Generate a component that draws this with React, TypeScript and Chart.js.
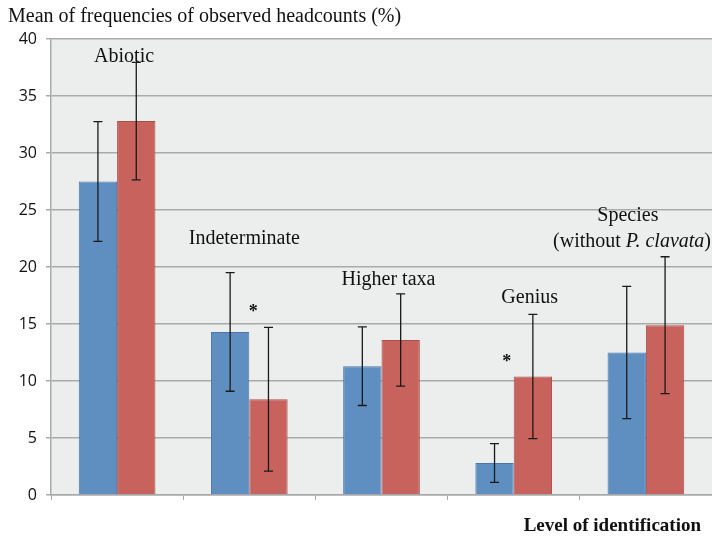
import React, { useEffect, useRef } from "react";
import { Chart, registerables } from "chart.js";

Chart.register(...registerables);

const categories = ["Abiotic", "Indeterminate", "Higher taxa", "Genius", "Species (without P. clavata)"];
const seriesA = [27.5, 14.3, 11.3, 2.8, 12.5];
const seriesB = [32.8, 8.4, 13.6, 10.4, 14.9];
const errA = [5.25, 5.2, 3.45, 1.7, 5.8];
const errB = [5.15, 6.3, 4.05, 5.45, 6.0];
const yTicks = [0, 5, 10, 15, 20, 25, 30, 35, 40];
const significant = [false, true, false, true, false];
const yTitle = "Mean of frequencies of observed headcounts (%)";
const xTitle = "Level of identification";

const SERIF = '"Liberation Serif", "DejaVu Serif", serif';

const bgPlugin = {
  id: "plotBg",
  beforeDraw(chart: any) {
    const { ctx, chartArea } = chart;
    ctx.save();
    ctx.fillStyle = "#ECEEEE";
    ctx.fillRect(chartArea.left, chartArea.top, chartArea.right - chartArea.left, chartArea.bottom - chartArea.top);
    ctx.restore();
  },
};

const errPlugin = {
  id: "errBars",
  afterDatasetsDraw(chart: any) {
    const { ctx } = chart;
    const y = chart.scales.y;
    const errs = [errA, errB];
    ctx.save();
    ctx.strokeStyle = "#1a1a1a";
    ctx.lineWidth = 1.3;
    chart.data.datasets.forEach((ds: any, di: number) => {
      const meta = chart.getDatasetMeta(di);
      meta.data.forEach((bar: any, i: number) => {
        const v = ds.data[i];
        const e = errs[di][i];
        const x = bar.x;
        const yt = y.getPixelForValue(v + e);
        const yb = y.getPixelForValue(v - e);
        ctx.beginPath();
        ctx.moveTo(x, yt);
        ctx.lineTo(x, yb);
        ctx.moveTo(x - 4.5, yt);
        ctx.lineTo(x + 4.5, yt);
        ctx.moveTo(x - 4.5, yb);
        ctx.lineTo(x + 4.5, yb);
        ctx.stroke();
      });
    });
    ctx.restore();
  },
};

const labelPlugin = {
  id: "labels",
  afterDraw(chart: any) {
    const { ctx } = chart;
    const x = chart.scales.x;
    const y = chart.scales.y;
    ctx.save();
    ctx.fillStyle = "#111";
    ctx.textBaseline = "middle";
    ctx.font = `20px ${SERIF}`;
    ctx.textAlign = "left";
    ctx.fillText(yTitle, 8, 17);
    ctx.font = `bold 19px ${SERIF}`;
    ctx.textAlign = "right";
    ctx.fillText(xTitle, 701, 526);

    ctx.font = `20px ${SERIF}`;
    ctx.textAlign = "center";
    const c = [0, 1, 2, 3, 4].map((i) => x.getPixelForValue(i));
    ctx.fillText("Abiotic", c[0] + 7, y.getPixelForValue(38.4));
    ctx.fillText("Indeterminate", c[1] - 5, y.getPixelForValue(22.5));
    ctx.fillText("Higher taxa", c[2] + 7, y.getPixelForValue(18.9));
    ctx.fillText("Genius", c[3] + 16, y.getPixelForValue(17.3));
    ctx.fillText("Species", c[4] - 18, y.getPixelForValue(24.5));
    const y5 = y.getPixelForValue(22.2);
    const parts: [string, string][] = [
      ["(without ", `20px ${SERIF}`],
      ["P. clavata", `italic 20px ${SERIF}`],
      [")", `20px ${SERIF}`],
    ];
    let total = 0;
    parts.forEach(([t, f]) => {
      ctx.font = f;
      total += ctx.measureText(t).width;
    });
    let sx = 711 - total;
    ctx.textAlign = "left";
    parts.forEach(([t, f]) => {
      ctx.font = f;
      ctx.fillText(t, sx, y5);
      sx += ctx.measureText(t).width;
    });
    ctx.font = `bold 18px ${SERIF}`;
    ctx.textAlign = "center";
    const astOff = [0, 4, 0, -7, 0];
    const astVal = [0, 16.0, 0, 11.6, 0];
    significant.forEach((s, i) => {
      if (!s) return;
      ctx.fillText("*", c[i] + astOff[i], y.getPixelForValue(astVal[i]));
    });
    ctx.restore();
  },
};

export default function App() {
  const ref = useRef<HTMLCanvasElement | null>(null);
  useEffect(() => {
    document.body.style.margin = "0";
    const chart = new Chart(ref.current!, {
      type: "bar",
      data: {
        labels: categories,
        datasets: [
          {
            label: "A",
            data: seriesA,
            backgroundColor: "#5F8FC1",
            borderColor: "#4A78AA",
            borderWidth: 1,
            categoryPercentage: 0.58,
            barPercentage: 1,
          },
          {
            label: "B",
            data: seriesB,
            backgroundColor: "#C8625D",
            borderColor: "#A84E4A",
            borderWidth: 1,
            categoryPercentage: 0.58,
            barPercentage: 1,
          },
        ],
      },
      options: {
        animation: false,
        responsive: false,
        maintainAspectRatio: false,
        layout: { padding: { top: 39, left: 0, right: 0, bottom: 0 } },
        plugins: { legend: { display: false }, tooltip: { enabled: false }, title: { display: false } },
        scales: {
          x: {
            ticks: { display: false },
            grid: { drawOnChartArea: false, drawTicks: true, tickLength: 5, color: "#A9AAAA", offset: true },
            border: { color: "#A9AAAA", width: 1.5 },
            afterFit: (s: any) => {
              s.height = 42;
            },
          },
          y: {
            min: 0,
            max: 40,
            afterBuildTicks: (s: any) => {
              s.ticks = yTicks.map((v) => ({ value: v }));
            },
            ticks: {
              color: "#111",
              font: { family: '"Open Sans", "Liberation Sans", sans-serif', size: 16 },
              padding: 9,
            },
            grid: { color: "#A9AAAA", lineWidth: 1.5, tickLength: 5 },
            border: { color: "#A9AAAA", width: 1.5 },
            afterFit: (s: any) => {
              s.width = 51;
            },
          },
        },
      },
      plugins: [bgPlugin, errPlugin, labelPlugin],
    });
    return () => chart.destroy();
  }, []);
  return (
    <div style={{ position: "fixed", left: 0, top: 0, width: 712, height: 537, background: "#fff" }}>
      <canvas ref={ref} width={712} height={537} style={{ width: 712, height: 537 }} />
    </div>
  );
}
